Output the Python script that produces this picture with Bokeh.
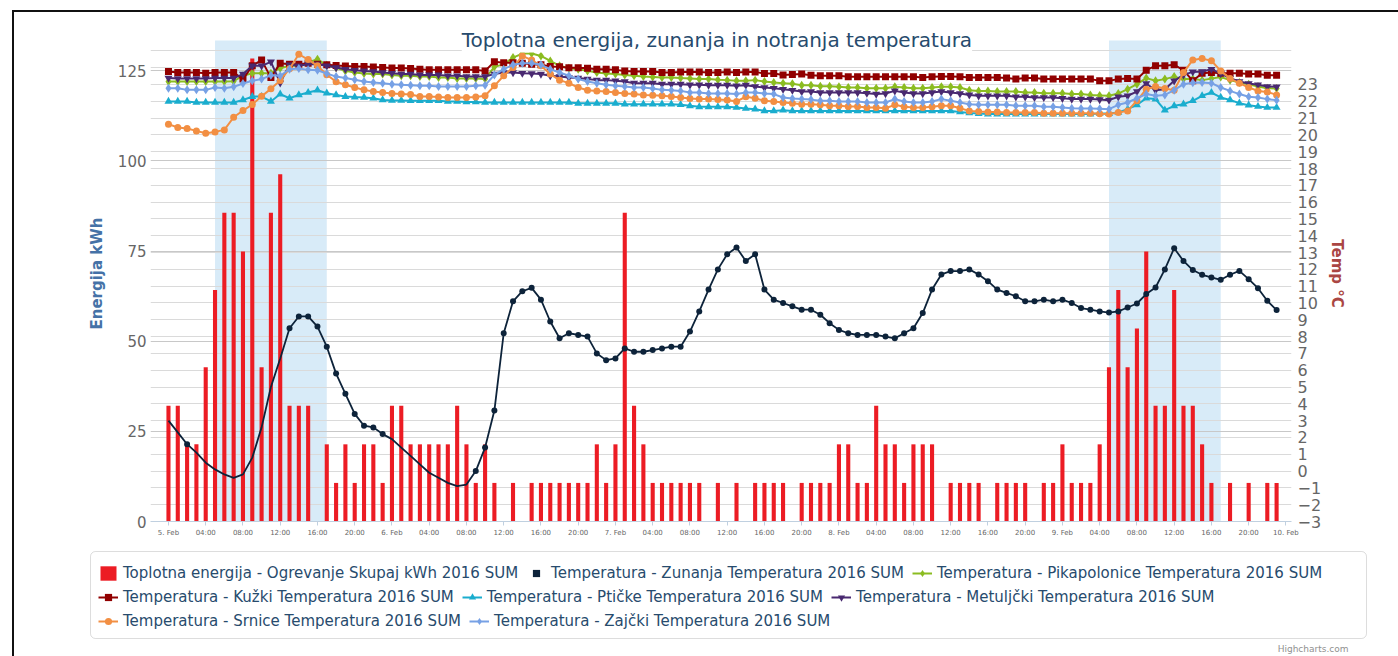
from bokeh.plotting import figure
from bokeh.models import (Range1d, LinearAxis, FixedTicker, Grid, BoxAnnotation,
                          Label, Legend, LegendItem, Div)
from bokeh.embed import file_html
from bokeh.resources import INLINE

# ---------------- data ----------------
hours = list(range(120))  # hours since 5. Feb 00:00

x_tick_hours = list(range(0, 121, 4))
x_tick_labels = ["5. Feb", "04:00", "08:00", "12:00", "16:00", "20:00",
                 "6. Feb", "04:00", "08:00", "12:00", "16:00", "20:00",
                 "7. Feb", "04:00", "08:00", "12:00", "16:00", "20:00",
                 "8. Feb", "04:00", "08:00", "12:00", "16:00", "20:00",
                 "9. Feb", "04:00", "08:00", "12:00", "16:00", "20:00",
                 "10. Feb"]
left_ticks = [0, 25, 50, 75, 100, 125]
right_ticks = list(range(-3, 24))
right_grid_ticks = list(range(-3, 26))

heating_bands = [(5, 17), (101, 113)]

energija = [32.1, 32.1, 21.4, 21.4, 42.8, 64.2, 85.6, 85.6, 74.9, 128.4,
            42.8, 85.6, 96.3, 32.1, 32.1, 32.1, 0, 21.4, 10.7, 21.4,
            10.7, 21.4, 21.4, 10.7, 32.1, 32.1, 21.4, 21.4, 21.4, 21.4,
            21.4, 32.1, 21.4, 10.7, 21.4, 10.7, 0, 10.7, 0, 10.7,
            10.7, 10.7, 10.7, 10.7, 10.7, 10.7, 21.4, 10.7, 21.4, 85.6,
            32.1, 21.4, 10.7, 10.7, 10.7, 10.7, 10.7, 10.7, 0, 10.7,
            0, 10.7, 0, 10.7, 10.7, 10.7, 10.7, 0, 10.7, 10.7,
            10.7, 10.7, 21.4, 21.4, 10.7, 10.7, 32.1, 21.4, 21.4, 10.7,
            21.4, 21.4, 21.4, 0, 10.7, 10.7, 10.7, 10.7, 0, 10.7,
            10.7, 10.7, 10.7, 0, 10.7, 10.7, 21.4, 10.7, 10.7, 10.7,
            21.4, 42.8, 64.2, 42.8, 53.5, 74.9, 32.1, 32.1, 64.2, 32.1,
            32.1, 21.4, 10.7, 0, 10.7, 0, 10.7, 0, 10.7, 10.7]

zunanja = [3.0, 2.3, 1.6, 1.1, 0.5, 0.1, -0.2, -0.4, -0.2, 0.8,
           2.6, 5.0, 6.7, 8.5, 9.2, 9.2, 8.6, 7.4, 5.8, 4.6,
           3.4, 2.7, 2.6, 2.2, 1.9, 1.4, 0.9, 0.4, -0.1, -0.4,
           -0.7, -0.9, -0.8, 0.0, 1.4, 3.6, 8.2, 10.1, 10.7, 10.9,
           10.2, 8.9, 7.9, 8.2, 8.1, 8.0, 7.0, 6.6, 6.7, 7.3,
           7.1, 7.1, 7.2, 7.3, 7.4, 7.4, 8.3, 9.5, 10.8, 12.0,
           12.9, 13.3, 12.5, 12.9, 10.8, 10.2, 10.0, 9.8, 9.6, 9.6,
           9.3, 8.8, 8.4, 8.2, 8.1, 8.1, 8.1, 8.0, 7.9, 8.2,
           8.5, 9.4, 10.8, 11.7, 11.9, 11.9, 12.0, 11.7, 11.3, 10.8,
           10.6, 10.4, 10.1, 10.1, 10.2, 10.1, 10.2, 10.0, 9.7, 9.6,
           9.5, 9.43, 9.5, 9.73, 9.97, 10.53, 10.92, 12.0, 13.26, 12.5,
           11.96, 11.68, 11.52, 11.38, 11.68, 11.91, 11.42, 10.88, 10.13, 9.58]
# hours whose outside-temperature point shows no marker
zunanja_unmarked = [0, 1, 3, 4, 5, 6, 7, 8, 9, 10, 11, 12,
                    24, 25, 26, 27, 28, 29, 30, 31, 32]

pikapolonice = [23.18, 23.18, 23.18, 23.18, 23.18, 23.18, 23.18, 23.20, 23.52, 23.67,
                23.67, 23.67, 23.97, 24.11, 24.11, 24.31, 24.50, 24.15, 24.00, 23.81,
                23.71, 23.65, 23.62, 23.62, 23.57, 23.52, 23.52, 23.47, 23.47, 23.41,
                23.41, 23.35, 23.35, 23.35, 23.33, 24.05, 24.20, 24.60, 24.84, 24.84,
                24.70, 24.40, 24.11, 23.97, 23.91, 23.81, 23.71, 23.65, 23.62, 23.57,
                23.52, 23.47, 23.45, 23.41, 23.41, 23.38, 23.36, 23.32, 23.32, 23.28,
                23.26, 23.22, 23.22, 23.26, 23.18, 23.12, 23.08, 23.04, 22.96, 22.96,
                22.90, 22.90, 22.86, 22.82, 22.82, 22.78, 22.78, 22.78, 22.86, 22.82,
                22.78, 22.78, 22.82, 22.86, 22.86, 22.82, 22.66, 22.62, 22.62, 22.58,
                22.58, 22.58, 22.52, 22.52, 22.48, 22.48, 22.48, 22.43, 22.43, 22.37,
                22.35, 22.33, 22.46, 22.72, 23.02, 23.38, 23.22, 23.32, 23.47, 23.32,
                23.32, 23.26, 23.35, 23.45, 23.26, 23.12, 23.02, 22.88, 22.78, 22.76]

kuzki = [23.77, 23.71, 23.71, 23.71, 23.67, 23.71, 23.71, 23.71, 23.32, 24.11,
         24.45, 23.41, 24.27, 24.21, 24.21, 24.27, 24.21, 24.17, 24.13, 24.10,
         24.07, 24.07, 24.04, 24.01, 23.98, 23.98, 23.95, 23.91, 23.87, 23.87,
         23.87, 23.87, 23.87, 23.87, 23.81, 24.35, 24.30, 24.30, 24.27, 24.20,
         24.17, 24.07, 24.05, 24.00, 24.00, 23.97, 23.91, 23.91, 23.87, 23.81,
         23.77, 23.77, 23.77, 23.71, 23.71, 23.75, 23.75, 23.75, 23.71, 23.71,
         23.75, 23.71, 23.75, 23.75, 23.65, 23.65, 23.57, 23.60, 23.62, 23.55,
         23.52, 23.52, 23.52, 23.46, 23.46, 23.46, 23.46, 23.46, 23.46, 23.46,
         23.46, 23.41, 23.46, 23.48, 23.48, 23.46, 23.41, 23.41, 23.41, 23.41,
         23.38, 23.32, 23.38, 23.38, 23.32, 23.32, 23.32, 23.32, 23.32, 23.32,
         23.22, 23.22, 23.32, 23.35, 23.32, 23.85, 24.11, 24.11, 24.17, 23.85,
         23.22, 23.67, 23.71, 23.67, 23.67, 23.67, 23.62, 23.62, 23.55, 23.55]

pticke = [21.99, 21.99, 21.99, 21.93, 21.93, 21.93, 21.93, 21.93, 22.08, 22.28,
          22.28, 21.99, 22.43, 22.18, 22.38, 22.52, 22.66, 22.48, 22.38, 22.28,
          22.25, 22.23, 22.18, 22.08, 22.05, 22.05, 22.03, 22.03, 22.03, 22.03,
          21.99, 21.99, 21.96, 21.96, 21.93, 21.93, 21.93, 21.93, 21.93, 21.93,
          21.93, 21.93, 21.93, 21.93, 21.88, 21.88, 21.88, 21.88, 21.88, 21.83,
          21.83, 21.83, 21.83, 21.83, 21.83, 21.80, 21.73, 21.67, 21.67, 21.67,
          21.67, 21.63, 21.57, 21.53, 21.43, 21.43, 21.47, 21.43, 21.43, 21.43,
          21.43, 21.43, 21.43, 21.43, 21.43, 21.43, 21.43, 21.43, 21.43, 21.43,
          21.43, 21.43, 21.43, 21.43, 21.43, 21.36, 21.31, 21.27, 21.24, 21.24,
          21.24, 21.24, 21.24, 21.24, 21.24, 21.24, 21.24, 21.24, 21.24, 21.24,
          21.28, 21.27, 21.33, 21.53, 21.79, 22.18, 22.13, 21.47, 21.73, 21.83,
          22.03, 22.33, 22.52, 22.23, 22.08, 21.89, 21.77, 21.69, 21.63, 21.63]

metuljcki = [23.38, 23.35, 23.35, 23.35, 23.35, 23.38, 23.38, 23.38, 23.62, 24.11,
             24.11, 24.35, 23.10, 24.17, 24.11, 24.21, 24.21, 24.11, 24.01, 23.91,
             23.85, 23.81, 23.77, 23.71, 23.67, 23.62, 23.62, 23.57, 23.57, 23.57,
             23.52, 23.52, 23.47, 23.47, 23.47, 23.62, 23.71, 23.71, 23.67, 23.65,
             23.62, 23.52, 23.47, 23.41, 23.38, 23.32, 23.26, 23.26, 23.22, 23.18,
             23.08, 23.08, 23.08, 23.02, 23.02, 23.02, 22.98, 22.98, 22.96, 22.96,
             22.96, 22.92, 22.96, 22.88, 22.82, 22.78, 22.72, 22.66, 22.58, 22.58,
             22.52, 22.52, 22.52, 22.52, 22.52, 22.48, 22.43, 22.46, 22.62, 22.52,
             22.46, 22.46, 22.52, 22.58, 22.52, 22.46, 22.38, 22.33, 22.33, 22.33,
             22.33, 22.27, 22.27, 22.23, 22.23, 22.23, 22.18, 22.13, 22.13, 22.13,
             22.10, 22.07, 22.27, 22.33, 22.58, 23.06, 22.66, 22.72, 23.22, 23.57,
             23.75, 23.77, 23.91, 23.65, 23.38, 23.18, 23.06, 22.98, 22.88, 22.86]

srnice = [20.64, 20.44, 20.38, 20.24, 20.10, 20.18, 20.30, 21.05, 21.45, 21.81,
          22.30, 22.74, 23.24, 23.94, 24.80, 24.48, 24.11, 23.58, 23.17, 22.98,
          22.82, 22.68, 22.58, 22.52, 22.46, 22.43, 22.40, 22.28, 22.28, 22.26,
          22.23, 22.23, 22.23, 22.26, 22.33, 22.92, 23.52, 24.01, 24.70, 24.45,
          24.11, 23.62, 23.26, 23.08, 22.82, 22.66, 22.62, 22.58, 22.52, 22.46,
          22.43, 22.38, 22.36, 22.33, 22.28, 22.23, 22.17, 22.13, 22.13, 22.10,
          22.08, 21.99, 22.27, 22.18, 22.03, 21.99, 21.93, 21.89, 21.83, 21.83,
          21.79, 21.73, 21.73, 21.69, 21.69, 21.63, 21.63, 21.59, 21.79, 21.67,
          21.63, 21.63, 21.67, 21.73, 21.73, 21.59, 21.43, 21.39, 21.37, 21.37,
          21.33, 21.33, 21.33, 21.33, 21.29, 21.29, 21.29, 21.29, 21.29, 21.29,
          21.26, 21.24, 21.33, 21.43, 22.03, 22.72, 22.88, 22.76, 22.66, 23.71,
          24.46, 24.54, 24.41, 23.81, 23.35, 23.08, 22.82, 22.62, 22.56, 22.38]

zajcki = [22.78, 22.78, 22.68, 22.68, 22.68, 22.82, 22.78, 22.86, 23.06, 23.22,
          23.32, 23.55, 23.52, 23.91, 23.95, 23.87, 23.85, 23.65, 23.47, 23.38,
          23.28, 23.18, 23.12, 23.08, 23.02, 22.98, 22.96, 22.92, 22.92, 22.88,
          22.88, 22.88, 22.88, 22.92, 22.95, 23.57, 23.91, 24.17, 24.27, 24.27,
          24.17, 23.91, 23.71, 23.52, 23.32, 23.18, 23.08, 22.98, 22.92, 22.88,
          22.82, 22.82, 22.76, 22.68, 22.66, 22.62, 22.52, 22.52, 22.46, 22.46,
          22.46, 22.43, 22.52, 22.52, 22.46, 22.43, 22.23, 22.17, 22.13, 22.10,
          22.03, 22.03, 21.99, 21.99, 21.99, 21.93, 21.93, 21.93, 22.13, 21.99,
          21.93, 21.93, 21.99, 22.13, 22.03, 21.93, 21.83, 21.79, 21.79, 21.79,
          21.79, 21.73, 21.73, 21.73, 21.67, 21.67, 21.63, 21.59, 21.57, 21.57,
          21.55, 21.53, 21.79, 21.93, 22.18, 22.43, 22.33, 22.38, 22.66, 23.02,
          23.10, 23.12, 23.08, 22.82, 22.62, 22.43, 22.27, 22.23, 22.13, 22.07]

# ---------------- style ----------------
FONT = "DejaVu Sans"
RED = "#ec1c24"
series = [
    ("Temperatura - Pikapolonice Temperatura 2016 SUM", pikapolonice, "#8bbc21", "diamond", 9),
    ("Temperatura - Kužki Temperatura 2016 SUM", kuzki, "#910000", "square", 7),
    ("Temperatura - Ptičke Temperatura 2016 SUM", pticke, "#1aadce", "triangle", 8),
    ("Temperatura - Metuljčki Temperatura 2016 SUM", metuljcki, "#492970", "inverted_triangle", 8),
    ("Temperatura - Srnice Temperatura 2016 SUM", srnice, "#f28f43", "circle", 7),
    ("Temperatura - Zajčki Temperatura 2016 SUM", zajcki, "#77a1e5", "diamond", 9),
]
ZUN_NAME = "Temperatura - Zunanja Temperatura 2016 SUM"
ZUN_COLOR = "#0d233a"
BAR_NAME = "Toplotna energija - Ogrevanje Skupaj kWh 2016 SUM"
TITLE = "Toplotna energija, zunanja in notranja temperatura"

W = 1398
H1 = 545
H2 = 111

p = figure(width=W, height=H1, output_backend="svg", toolbar_location=None,
           x_range=Range1d(-1.93, 120.6), y_range=Range1d(0, 137.55),
           min_border_left=150, min_border_right=107, min_border_top=25,
           min_border_bottom=24)
p.outline_line_color = None
p.extra_y_ranges = {"temp": Range1d(-3, 26.51)}

# x axis
xa = p.xaxis[0]
xa.ticker = FixedTicker(ticks=x_tick_hours)
xa.major_label_overrides = {h: lab for h, lab in zip(x_tick_hours, x_tick_labels)}
xa.major_label_text_font = FONT
xa.major_label_text_font_size = "7px"
xa.major_label_text_color = "#666666"
xa.axis_line_color = "#C0D0E0"
xa.major_tick_line_color = "#C0D0E0"
xa.major_tick_out = 4
xa.major_tick_in = 0
xa.minor_tick_line_color = None
xa.major_label_standoff = 3

# left axis
ya = p.yaxis[0]
ya.ticker = FixedTicker(ticks=left_ticks)
ya.axis_line_color = None
ya.major_tick_line_color = None
ya.major_tick_out = 0
ya.major_tick_in = 0
ya.minor_tick_line_color = None
ya.minor_tick_out = 0
ya.major_label_text_font = FONT
ya.major_label_text_font_size = "15px"
ya.major_label_text_color = "#666666"
ya.major_label_standoff = 4
ya.axis_label = "Energija kWh"
ya.axis_label_text_font = FONT
ya.axis_label_text_font_size = "15px"
ya.axis_label_text_font_style = "bold"
ya.axis_label_text_color = "#4572A7"
ya.axis_label_standoff = 9

# right axis
ra = LinearAxis(y_range_name="temp", ticker=FixedTicker(ticks=right_ticks),
                axis_label="Temp °C")
ra.axis_line_color = None
ra.major_tick_line_color = None
ra.major_tick_out = 0
ra.major_tick_in = 0
ra.minor_tick_line_color = None
ra.minor_tick_out = 0
ra.major_label_text_font = FONT
ra.major_label_text_font_size = "16px"
ra.major_label_text_color = "#666666"
ra.major_label_standoff = 6
ra.axis_label_text_font = FONT
ra.axis_label_text_font_size = "15px"
ra.axis_label_text_font_style = "bold"
ra.axis_label_text_color = "#AA4643"
ra.axis_label_standoff = 4
p.add_layout(ra, "right")

# grids
p.xgrid.visible = False
p.ygrid.ticker = FixedTicker(ticks=left_ticks)
p.ygrid.grid_line_color = "#c8c8c8"
p.add_layout(Grid(dimension=1, ticker=FixedTicker(ticks=right_grid_ticks),
                  y_range_name="temp", grid_line_color="#dadada"))

# heating plot bands (up to the plot-area top used by the reference)
for a, b in heating_bands:
    p.add_layout(BoxAnnotation(left=a, right=b, top=133.4, fill_color="#d8ebf8",
                               fill_alpha=1.0, line_color=None, level="image"))

# bars
p.vbar(x=hours, top=energija, width=0.44, fill_color=RED, line_color=None)

# outside temperature
p.line(hours, zunanja, y_range_name="temp", line_color=ZUN_COLOR, line_width=1.8)
zx = [h for h in hours if h not in zunanja_unmarked]
zy = [zunanja[h] for h in zx]
p.scatter(zx, zy, y_range_name="temp", marker="circle", size=6,
          fill_color=ZUN_COLOR, line_color=None)

# indoor temperatures
for name, vals, col, mk, sz in series:
    p.line(hours, vals, y_range_name="temp", line_color=col, line_width=2)
    p.scatter(hours, vals, y_range_name="temp", marker=mk, size=sz,
              fill_color=col, line_color=None)

# title
p.add_layout(Label(x=58.9, y=133.4, text=TITLE,
                   text_align="center", text_baseline="middle", text_font=FONT,
                   text_font_size="20px", text_color="#274b6d",
                   background_fill_color="white", background_fill_alpha=1.0))

# ---------------- legend area (separate root, pixel-like ranges) ----------------
lf = figure(width=W, height=H2, output_backend="svg", toolbar_location=None,
            x_range=Range1d(0, W), y_range=Range1d(0, H2),
            x_axis_type=None, y_axis_type=None, min_border=0)
lf.grid.visible = False
lf.outline_line_color = None
lf.extra_x_ranges = {"hidden": Range1d(5000, 5001)}
lf.extra_y_ranges = {"hidden": Range1d(5000, 5001)}

lf.add_layout(BoxAnnotation(left=90, right=1366, bottom=18, top=105,
                            fill_alpha=0, line_color="#909090", line_width=1,
                            border_radius=5))

HID = dict(x_range_name="hidden", y_range_name="hidden")
r_bar = lf.vbar(x=hours, top=energija, width=0.44, fill_color=RED, line_color=None, **HID)
r_zun = lf.scatter(hours, zunanja, marker="square", size=6,
                   fill_color=ZUN_COLOR, line_color=None, **HID)
leg_r = {}
for name, vals, col, mk, sz in series:
    rl = lf.line(hours, vals, line_color=col, line_width=2, **HID)
    rs = lf.scatter(hours, vals, marker=mk, size=sz, fill_color=col, line_color=None, **HID)
    leg_r[name] = [rl, rs]

names = [s[0] for s in series]
rows = [
    [(BAR_NAME, [r_bar]), (ZUN_NAME, [r_zun]), (names[0], leg_r[names[0]])],
    [(names[1], leg_r[names[1]]), (names[2], leg_r[names[2]]), (names[3], leg_r[names[3]])],
    [(names[4], leg_r[names[4]]), (names[5], leg_r[names[5]])],
]
row_y = [74, 50, 26]
for items, yy in zip(rows, row_y):
    lg = Legend(items=[LegendItem(label=n, renderers=r) for n, r in items],
                orientation="horizontal", location=(98, yy),
                label_text_font=FONT, label_text_font_size="15px",
                label_text_color="#274b6d", glyph_width=20, glyph_height=18,
                label_standoff=5, spacing=8, padding=0, margin=0,
                border_line_color=None, background_fill_alpha=0)
    lf.add_layout(lg)

lf.add_layout(Label(x=1348, y=8, text="Highcharts.com", text_align="right",
                    text_baseline="middle", text_font=FONT, text_font_size="9px",
                    text_color="#909090"))

# thin dark edge lines at the top and left of the reference picture
edge_top = Div(text="", width=1386, height=2, margin=0,
               styles={"position": "absolute", "top": "10px", "left": "12px",
                       "width": "1386px", "height": "2px", "overflow": "hidden",
                       "background-color": "#111111", "pointer-events": "none"})
edge_left = Div(text="", width=2, height=646, margin=0,
                styles={"position": "absolute", "top": "10px", "left": "12px",
                        "width": "2px", "height": "646px", "overflow": "hidden",
                        "background-color": "#111111", "pointer-events": "none"})

open("out.html", "w").write(file_html([p, lf, edge_top, edge_left], INLINE))
